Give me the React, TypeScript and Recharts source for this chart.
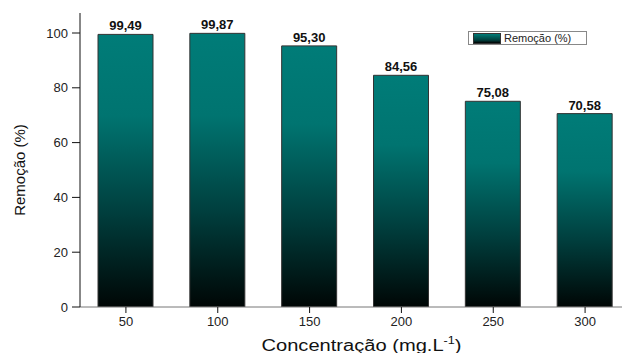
import { BarChart, Bar, XAxis, YAxis, LabelList, Legend, Label } from "recharts";

const concentrations = ["50", "100", "150", "200", "250", "300"];
const removal = [99.49, 99.87, 95.3, 84.56, 75.08, 70.58];
const yTicks = [0, 20, 40, 60, 80, 100];

const data = concentrations.map((c, i) => ({ conc: c, removal: removal[i] }));

const FONT = "'Liberation Sans', Arial, sans-serif";

function XTitle(props: any) {
  const vb = props.viewBox;
  const cx = vb.x + vb.width / 2 + 6;
  return (
    <text x={cx} y={351} textAnchor="middle" fontSize={16} fontFamily={FONT} fill="#111"
      textLength={200} lengthAdjust="spacingAndGlyphs">
      Concentração (mg.L
      <tspan fontSize={10} dy={-7}>-1</tspan>
      <tspan dy={7}>)</tspan>
    </text>
  );
}

function YTitle() {
  return (
    <text x={25} y={170} transform="rotate(-90 25 170)" textAnchor="middle" fontSize={15} fontFamily={FONT} fill="#111">
      Remoção (%)
    </text>
  );
}

function LegendBox() {
  return (
    <div
      style={{
        display: "flex", alignItems: "center", width: 117, height: 12, border: "1px solid #888",
        background: "#fff", fontFamily: FONT, fontSize: 11, color: "#222", lineHeight: "12px",
      }}
    >
      <div style={{ width: 26, height: 9, marginLeft: 4, marginRight: 3, border: "1px solid #333",
        background: "linear-gradient(#007c78, #003c3a 70%, #000)" }} />
      Remoção (%)
    </div>
  );
}

const fmt = (v: any) => Number(v).toFixed(2).replace(".", ",");

export default function App() {
  return (
    <div style={{ position: "absolute", left: 0, top: 0, width: 622, height: 353, overflow: "hidden", background: "#fff" }}>
      <BarChart width={640} height={353} data={data} margin={{ top: 13, right: 9, left: 0, bottom: 0 }} barCategoryGap={0}>
        <defs>
          <linearGradient id="tealGrad" x1="0" y1="0" x2="0" y2="1">
            <stop offset="0" stopColor="#007c78" />
            <stop offset="0.3" stopColor="#007470" />
            <stop offset="0.65" stopColor="#003f3e" />
            <stop offset="1" stopColor="#000605" />
          </linearGradient>
        </defs>
        <XAxis xAxisId="top" dataKey="conc" orientation="top" height={0} tick={false} tickLine={false} axisLine={{ stroke: "#111" }} />
        <XAxis dataKey="conc" height={46} tickSize={6} tickMargin={4}
          tick={{ fontSize: 13, fill: "#222", fontFamily: FONT }}
          axisLine={{ stroke: "#777" }} tickLine={{ stroke: "#111" }}>
          <Label content={XTitle} />
        </XAxis>
        <YAxis width={80} domain={[0, 107.3]} ticks={yTicks} tickSize={8} tickMargin={4}
          tick={{ fontSize: 13, fill: "#222", fontFamily: FONT }}
          axisLine={{ stroke: "#111" }} tickLine={{ stroke: "#111" }} allowDataOverflow>
          <Label content={YTitle} />
        </YAxis>
        <Legend verticalAlign="top" align="left" content={LegendBox}
          wrapperStyle={{ position: "absolute", left: 468, top: 31, width: 120, height: 0, overflow: "visible" }} />
        <Bar dataKey="removal" name="Remoção (%)" barSize={55} fill="url(#tealGrad)" stroke="#333" strokeWidth={1} isAnimationActive={false}>
          <LabelList dataKey="removal" position="top" offset={4} formatter={fmt}
            style={{ fontSize: 13, fontWeight: "bold", fill: "#111", fontFamily: FONT }} />
        </Bar>
      </BarChart>
    </div>
  );
}
